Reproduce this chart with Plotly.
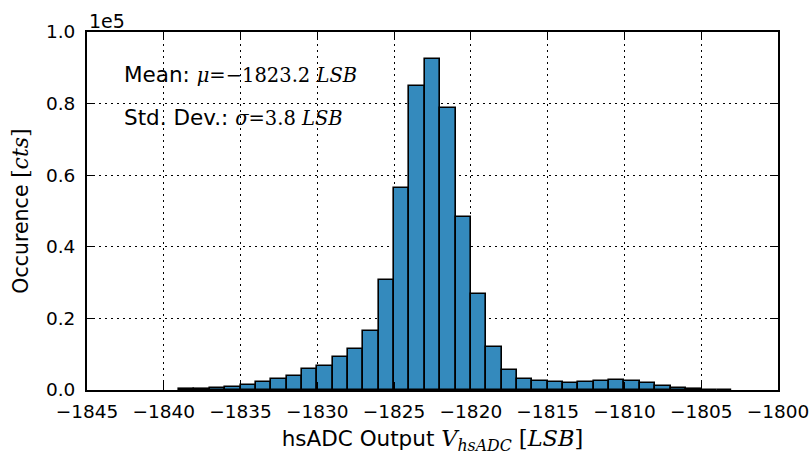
import plotly.graph_objects as go

# Histogram bins (left edge, width 1 LSB) and their counts
bin_left = list(range(-1839, -1803))
counts = [
    150, 300, 550, 900, 1500, 2200, 3000, 3900, 5800, 6700,
    9300, 11400, 16400, 30700, 56300, 84900, 92500, 78700, 48400, 26900,
    12100, 5600, 3000, 2400, 2150, 2060, 2200, 2600, 2800, 2600, 2000,
    1200, 560, 220, 110, 50,
]

x_ticks = [-1845, -1840, -1835, -1830, -1825, -1820, -1815, -1810, -1805, -1800]
y_ticks = [0, 20000, 40000, 60000, 80000, 100000]
y_tick_text = ["0.0", "0.2", "0.4", "0.6", "0.8", "1.0"]

centers = [b + 0.5 for b in bin_left]

fig = go.Figure()
fig.add_trace(go.Bar(
    x=centers, y=counts, width=1.0,
    marker=dict(color="#348ABD", line=dict(color="black", width=1.6)),
    showlegend=False, hoverinfo="skip",
))

sans = "DejaVu Sans, sans-serif"
serif = "DejaVu Serif"
tick_font = dict(family=sans, size=18.5, color="black")
axis_common = dict(
    showline=True, linecolor="black", linewidth=2, mirror="allticks",
    ticks="inside", ticklen=8, tickwidth=1.2, tickcolor="black",
    showgrid=True, gridcolor="black", gridwidth=1, griddash="1.5px,4.5px",
    zeroline=False, tickfont=tick_font, automargin=False,
)

fig.update_xaxes(
    range=[-1845, -1800], tickvals=x_ticks,
    ticktext=[f"\u2212{abs(v)}" for v in x_ticks],
    ticklabelstandoff=4,
    title=dict(
        text=(f"hsADC Output <span style='font-family:{serif};font-size:22.5px'>"
              "<i>V<sub>hsADC</sub></i> [<i>LSB</i>]</span>"),
        font=dict(family=sans, size=21.5, color="black"),
        standoff=12,
    ),
    **axis_common,
)
fig.update_yaxes(
    range=[0, 100000], tickvals=y_ticks, ticktext=y_tick_text,
    ticklabelstandoff=6,
    title=dict(
        text=f"Occurence <span style='font-family:{serif};font-size:22px'>[<i>cts</i>]</span>",
        font=dict(family=sans, size=20.5, color="black"),
        standoff=12,
    ),
    **axis_common,
)

math = f"font-family:{serif};font-size:19.5px"
fig.add_annotation(
    xref="paper", yref="paper", x=0.051, y=0.88, xanchor="left", yanchor="middle",
    text=f"Mean: <span style='{math}'><i>\u03bc</i>=\u22121823.2 <i>LSB</i></span>",
    showarrow=False, font=dict(family=sans, size=21.5, color="black"),
)
fig.add_annotation(
    xref="paper", yref="paper", x=0.051, y=0.76, xanchor="left", yanchor="middle",
    text=f"Std. Dev.: <span style='{math}'><i>\u03c3</i>=3.8 <i>LSB</i></span>",
    showarrow=False, font=dict(family=sans, size=21.5, color="black"),
)
fig.add_annotation(
    xref="paper", yref="paper", x=0.0, y=1.0, xanchor="left", yanchor="bottom",
    text="1e5", showarrow=False, yshift=-2,
    font=dict(family=sans, size=19, color="black"),
)

fig.update_layout(
    width=811, height=455,
    margin=dict(l=87, r=33, t=32, b=65),
    paper_bgcolor="white", plot_bgcolor="white",
    bargap=0,
)

fig.write_html("out.html")
